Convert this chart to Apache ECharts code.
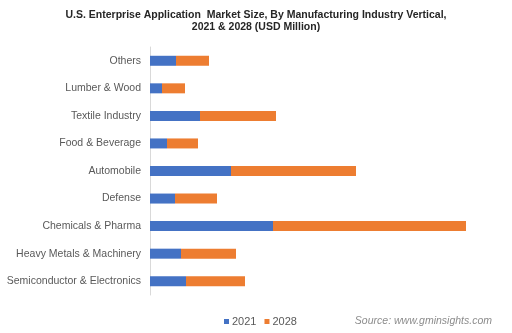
<!DOCTYPE html>
<html>
<head>
<meta charset="utf-8">
<script src="https://cdn.jsdelivr.net/npm/echarts@6/dist/echarts.min.js"></script>
<style>
  html, body { margin: 0; padding: 0; background: #fff; }
  #chart { width: 512px; height: 333px; }
</style>
</head>
<body>
<div id="chart"></div>
<script>
// categories, bottom to top (as the y axis draws them)
const categories = ['Semiconductor & Electronics', 'Heavy Metals & Machinery', 'Chemicals & Pharma',
    'Defense', 'Automobile', 'Food & Beverage', 'Textile Industry', 'Lumber & Wood', 'Others'];
// values (relative scale)
const values2021 = [36, 31, 123, 25, 81, 17, 50, 12, 26];
const values2028 = [59, 55, 193, 42, 125, 31, 76, 23, 33];
const seriesNames = ['2021', '2028'];

const chart = echarts.init(document.getElementById('chart'));
chart.setOption({
    animation: false,
    title: {
        text: 'U.S. Enterprise Application  Market Size, By Manufacturing Industry Vertical,\n2021 & 2028 (USD Million)',
        left: 'center',
        top: 4,
        textStyle: {
            fontFamily: 'Liberation Sans',
            fontSize: 10.5,
            fontWeight: 'bold',
            color: '#262626',
            lineHeight: 12
        }
    },
    legend: {
        data: seriesNames,
        left: 219,
        top: 311,
        itemWidth: 5,
        itemHeight: 5,
        itemGap: 8,
        icon: 'rect',
        textStyle: { fontFamily: 'Liberation Sans', fontSize: 11, color: '#595959', padding: [0, 0, 0, -2] }
    },
    graphic: [{
        type: 'text',
        right: 20,
        top: 316,
        style: {
            text: 'Source: www.gminsights.com',
            font: 'italic 10.5px "Liberation Sans"',
            fill: '#8c8c8c'
        }
    }],
    grid: {
        left: 150,
        width: 340,
        top: 47,
        height: 248
    },
    xAxis: {
        type: 'value',
        min: 0,
        max: 340,
        show: false
    },
    yAxis: {
        type: 'category',
        data: categories,
        axisLine: { lineStyle: { color: '#d9d9d9' } },
        axisTick: { show: false },
        axisLabel: {
            fontFamily: 'Liberation Sans',
            fontSize: 10.5,
            color: '#595959',
            margin: 9
        }
    },
    series: [
        {
            name: '2021',
            type: 'bar',
            stack: 'total',
            data: values2021,
            barWidth: 10,
            itemStyle: { color: '#4472c4' }
        },
        {
            name: '2028',
            type: 'bar',
            stack: 'total',
            data: values2028,
            barWidth: 10,
            itemStyle: { color: '#ed7d31' }
        }
    ]
});
</script>
</body>
</html>
